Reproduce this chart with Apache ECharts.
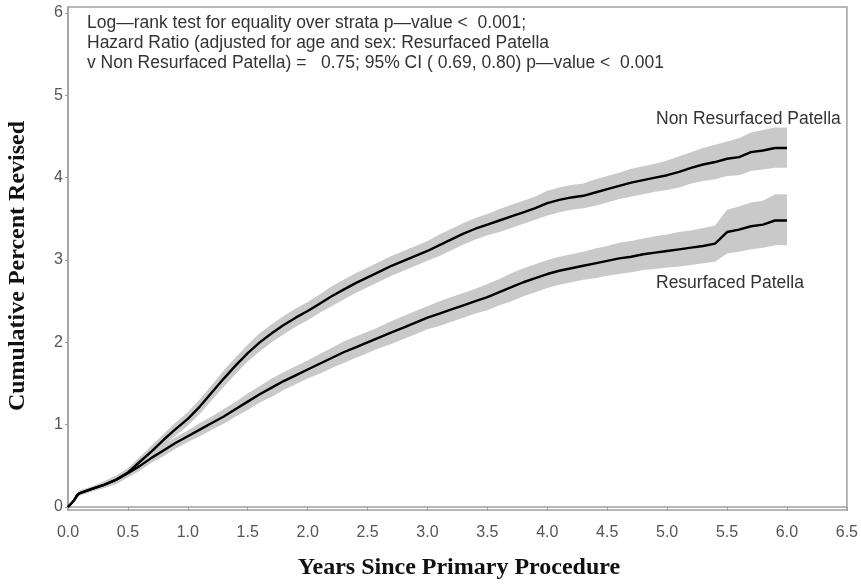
<!DOCTYPE html>
<html>
<head>
<meta charset="utf-8">
<script src="https://cdn.jsdelivr.net/npm/echarts@6/dist/echarts.min.js"></script>
<style>html,body{margin:0;padding:0;background:#fff;}#c{width:861px;height:585px;}</style>
</head>
<body>
<div id="c"></div>
<script>
// ---- data ----
const years = [0, 0.05, 0.08, 0.1, 0.2, 0.3, 0.4, 0.5, 0.6, 0.7, 0.8, 0.9, 1.0, 1.1, 1.2, 1.3, 1.4, 1.5, 1.6, 1.7, 1.8, 1.9, 2.0,
  2.1, 2.2, 2.3, 2.4, 2.5, 2.6, 2.7, 2.8, 2.9, 3.0, 3.1, 3.2, 3.3, 3.4, 3.5, 3.6, 3.7, 3.8, 3.9, 4.0,
  4.1, 4.2, 4.3, 4.4, 4.5, 4.6, 4.7, 4.8, 4.9, 5.0, 5.1, 5.2, 5.3, 5.4, 5.5, 5.6, 5.7, 5.8, 5.9, 6.0];

const nonResurf = [0, 0.08, 0.15, 0.17, 0.22, 0.27, 0.33, 0.42, 0.55, 0.68, 0.82, 0.95, 1.07, 1.22, 1.39, 1.56, 1.72, 1.87, 2.0, 2.11, 2.21, 2.3, 2.38,
  2.47, 2.56, 2.64, 2.72, 2.79, 2.86, 2.93, 2.99, 3.05, 3.11, 3.18, 3.25, 3.32, 3.38, 3.43, 3.48, 3.53, 3.58, 3.63, 3.69,
  3.73, 3.76, 3.78, 3.82, 3.86, 3.9, 3.94, 3.97, 4.0, 4.03, 4.07, 4.12, 4.16, 4.19, 4.23, 4.25, 4.31, 4.33, 4.36, 4.36];
const nonLo = [0, 0.06, 0.12, 0.14, 0.19, 0.23, 0.28, 0.37, 0.49, 0.61, 0.75, 0.87, 0.99, 1.13, 1.3, 1.46, 1.62, 1.77, 1.89, 2.0, 2.1, 2.19, 2.27,
  2.36, 2.44, 2.52, 2.6, 2.67, 2.74, 2.81, 2.87, 2.93, 2.99, 3.05, 3.12, 3.19, 3.25, 3.3, 3.34, 3.39, 3.44, 3.49, 3.54,
  3.58, 3.61, 3.63, 3.66, 3.7, 3.74, 3.77, 3.8, 3.83, 3.85, 3.88, 3.93, 3.96, 3.98, 4.02, 4.03, 4.08, 4.1, 4.12, 4.12];
const nonHi = [0, 0.1, 0.18, 0.2, 0.25, 0.31, 0.38, 0.47, 0.61, 0.75, 0.89, 1.03, 1.15, 1.31, 1.48, 1.66, 1.82, 1.97, 2.11, 2.22, 2.32, 2.41, 2.49,
  2.58, 2.68, 2.76, 2.84, 2.91, 2.98, 3.05, 3.11, 3.17, 3.23, 3.31, 3.38, 3.45, 3.51, 3.56, 3.62, 3.67, 3.72, 3.77, 3.84,
  3.88, 3.91, 3.93, 3.98, 4.02, 4.06, 4.11, 4.14, 4.17, 4.21, 4.26, 4.31, 4.36, 4.4, 4.44, 4.48, 4.55, 4.58, 4.61, 4.61];

const resurf = [0, 0.08, 0.15, 0.17, 0.22, 0.27, 0.33, 0.41, 0.5, 0.6, 0.69, 0.78, 0.86, 0.94, 1.02, 1.1, 1.19, 1.28, 1.37, 1.45, 1.53, 1.6, 1.67,
  1.74, 1.81, 1.88, 1.94, 2.0, 2.06, 2.12, 2.18, 2.24, 2.3, 2.35, 2.4, 2.45, 2.5, 2.55, 2.61, 2.67, 2.73, 2.78, 2.83,
  2.87, 2.9, 2.93, 2.96, 2.99, 3.02, 3.04, 3.07, 3.09, 3.11, 3.13, 3.15, 3.17, 3.2, 3.34, 3.37, 3.41, 3.43, 3.48, 3.48];
const resLo = [0, 0.06, 0.12, 0.14, 0.19, 0.23, 0.28, 0.36, 0.44, 0.54, 0.62, 0.71, 0.79, 0.86, 0.94, 1.01, 1.1, 1.18, 1.27, 1.34, 1.42, 1.49, 1.56,
  1.62, 1.69, 1.75, 1.81, 1.87, 1.93, 1.98, 2.04, 2.1, 2.16, 2.2, 2.25, 2.3, 2.35, 2.39, 2.45, 2.5, 2.56, 2.61, 2.66,
  2.7, 2.73, 2.76, 2.78, 2.81, 2.83, 2.85, 2.88, 2.89, 2.91, 2.92, 2.94, 2.96, 2.98, 3.08, 3.1, 3.13, 3.15, 3.18, 3.18];
const resHi = [0, 0.1, 0.18, 0.2, 0.25, 0.31, 0.38, 0.46, 0.56, 0.66, 0.76, 0.85, 0.93, 1.02, 1.1, 1.19, 1.28, 1.38, 1.47, 1.56, 1.64, 1.71, 1.78,
  1.86, 1.93, 2.01, 2.07, 2.13, 2.19, 2.26, 2.32, 2.38, 2.44, 2.5, 2.55, 2.6, 2.65, 2.71, 2.77, 2.84, 2.9, 2.95, 3.0,
  3.04, 3.07, 3.1, 3.14, 3.17, 3.21, 3.23, 3.26, 3.29, 3.31, 3.34, 3.36, 3.39, 3.42, 3.61, 3.65, 3.7, 3.72, 3.8, 3.8];

const xTicks = [0, 0.5, 1, 1.5, 2, 2.5, 3, 3.5, 4, 4.5, 5, 5.5, 6, 6.5];
const yTicks = [0, 1, 2, 3, 4, 5, 6];
const noteLines = [
  'Log—rank test for equality over strata p—value <  0.001;',
  'Hazard Ratio (adjusted for age and sex: Resurfaced Patella',
  'v Non Resurfaced Patella) =   0.75; 95% CI ( 0.69, 0.80) p—value <  0.001'
];
const curveLabels = ['Non Resurfaced Patella', 'Resurfaced Patella'];
const xTitle = 'Years Since Primary Procedure';
const yTitle = 'Cumulative Percent Revised';

// ---- chart ----
const chart = echarts.init(document.getElementById('c'), null, {renderer: 'canvas'});
const gray = '#a0a0a0';
const labelColor = '#555';
const txtFont = '17.5px "Liberation Sans"';

function bandSeries(lo, hi) {
  return {
    type: 'custom',
    coordinateSystem: 'cartesian2d',
    data: [[0, 0]],
    silent: true,
    z: 1,
    renderItem: function (params, api) {
      const pts = [];
      for (let i = 0; i < years.length; i++) pts.push(api.coord([years[i], hi[i]]));
      for (let i = years.length - 1; i >= 0; i--) pts.push(api.coord([years[i], lo[i]]));
      return {type: 'polygon', shape: {points: pts}, style: {fill: '#c9c9c9', stroke: null}};
    }
  };
}
function lineSeries(vals) {
  return {
    type: 'line',
    data: years.map((x, i) => [x, vals[i]]),
    showSymbol: false,
    silent: true,
    z: 3,
    lineStyle: {color: '#000', width: 2.4},
    animation: false
  };
}

chart.setOption({
  animation: false,
  backgroundColor: '#fff',
  grid: {left: 68, right: 12, top: 7, bottom: 75, show: true, borderColor: gray, borderWidth: 1.5},
  xAxis: {
    type: 'value', min: 0, max: 6.5, interval: 0.5,
    axisLine: {show: true, lineStyle: {color: gray, width: 1.5}},
    axisTick: {show: true, length: 4, lineStyle: {color: gray}},
    axisLabel: {color: labelColor, fontFamily: 'Liberation Sans', fontSize: 16, margin: 15,
      formatter: v => v.toFixed(1)},
    splitLine: {show: false}
  },
  yAxis: {
    type: 'value', min: -0.036, max: 6.073,
    axisLine: {show: true, lineStyle: {color: gray, width: 1.5}},
    axisTick: {show: true, length: 3, customValues: yTicks, lineStyle: {color: gray}},
    axisLabel: {color: labelColor, fontFamily: 'Liberation Sans', fontSize: 16, margin: 5, customValues: yTicks,
      formatter: v => String(Math.round(v))},
    splitLine: {show: false}
  },
  graphic: [
    {type: 'text', left: 87, top: 13, silent: true,
      style: {text: noteLines.join('\n'), fill: '#333', font: txtFont, lineHeight: 20}},
    {type: 'text', x: 656, y: 119, silent: true,
      style: {text: curveLabels[0], fill: '#333', font: txtFont, verticalAlign: 'middle'}},
    {type: 'text', x: 656, y: 283, silent: true,
      style: {text: curveLabels[1], fill: '#333', font: txtFont, verticalAlign: 'middle'}},
    {type: 'text', x: 459, y: 568, silent: true,
      style: {text: xTitle, fill: '#111', font: 'bold 24px "Liberation Serif"', align: 'center', verticalAlign: 'middle'}},
    {type: 'text', x: 18, y: 266, rotation: Math.PI / 2, silent: true,
      style: {text: yTitle, fill: '#111', font: 'bold 24px "Liberation Serif"', align: 'center', verticalAlign: 'middle'}}
  ],
  series: [
    bandSeries(nonLo, nonHi),
    bandSeries(resLo, resHi),
    lineSeries(nonResurf),
    lineSeries(resurf)
  ]
});
</script>
</body>
</html>
